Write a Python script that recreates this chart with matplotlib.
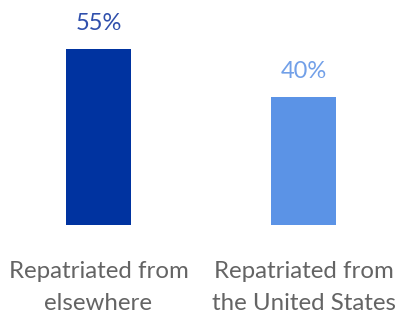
import matplotlib
matplotlib.use("Agg")
import matplotlib.pyplot as plt

categories = ["Repatriated from\nelsewhere", "Repatriated from\nthe United States"]
values = [55, 40]
value_labels = ["55%", "40%"]
bar_colors = ["#0033a0", "#5b93e6"]
text_colors = ["#2f4fac", "#72a0e8"]

plt.rcParams["font.family"] = ["Lato", "DejaVu Sans"]

fig = plt.figure(figsize=(3.95, 3.2), dpi=100)
ax = fig.add_axes([0, 0, 1, 1])

x = list(range(len(values)))
ax.bar(x, values, width=0.317, color=bar_colors)

for xi, v, lab, c in zip(x, values, value_labels, text_colors):
    ax.annotate(lab, (xi, v), xytext=(0, 11), textcoords="offset points",
                ha="center", va="bottom", fontsize=17, color=c)

for xi, cat in zip(x, categories):
    ax.text(xi, -11.1, cat, ha="center", va="top", fontsize=17.3, color="#646464",
            linespacing=1.7)

ax.set_xlim(-0.48, 1.446)
ax.set_ylim(-29.69, 70.31)
ax.axis("off")

fig.savefig("out.png", dpi=100)
